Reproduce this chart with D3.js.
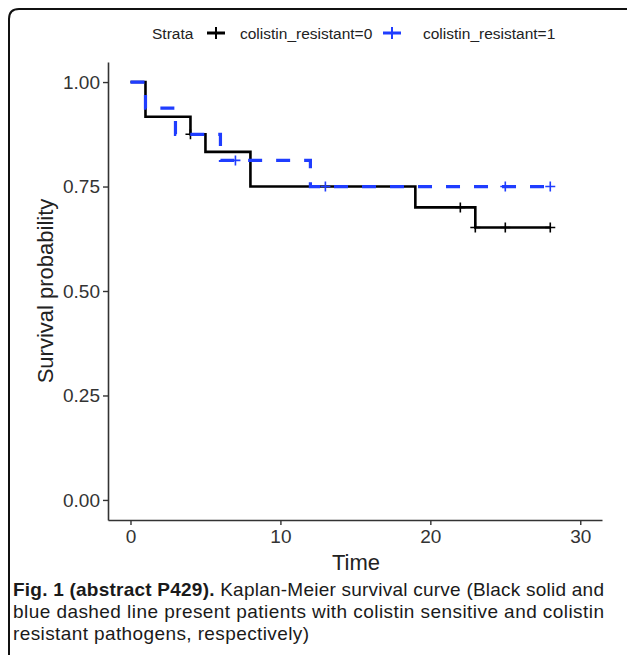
<!DOCTYPE html>
<html><head><meta charset="utf-8">
<script src="https://cdn.jsdelivr.net/npm/d3@7"></script>
<style>html,body{margin:0;padding:0;background:#fff;}svg{display:block;}</style>
</head><body>
<svg id="c" width="627" height="655"></svg>
<script>
// ---- data ----
const seriesNames = ["colistin_resistant=0", "colistin_resistant=1"];
const times0 = [0, 1, 4, 5, 8, 19, 23, 28];
const surv0  = [1.00, 0.917, 0.875, 0.833, 0.75, 0.70, 0.652, 0.652];
const censor0 = [4, 22, 23, 25, 28];
const times1 = [0, 1, 3, 6, 12, 28];
const surv1  = [1.00, 0.9375, 0.875, 0.8125, 0.75, 0.75];
const censor1 = [7, 13, 25, 28];
const xTicks = [0, 10, 20, 30];
const yTicks = [0, 0.25, 0.5, 0.75, 1.0];
const colors = ["#000000", "#1f3dff"];
const captionBold = "Fig. 1 (abstract P429).";
const captionLines = [" Kaplan-Meier survival curve (Black solid and",
  "blue dashed line present patients with colistin sensitive and colistin",
  "resistant pathogens, respectively)"];

const svg = d3.select("#c");
const font = "'Liberation Sans', Arial, sans-serif";

// frame
svg.append("path").attr("d", "M9,655 L9,19 Q9,9 19,9 L627,9")
  .attr("fill", "none").attr("stroke", "#111").attr("stroke-width", 2);

const x = d3.scaleLinear().domain([-1.5, 31.45]).range([108, 602]);
const y = d3.scaleLinear().domain([-0.048, 1.048]).range([520, 62]);

const xAxis = svg.append("g").attr("transform", "translate(0,520)")
  .call(d3.axisBottom(x).tickValues(xTicks).tickFormat(d3.format("d")).tickSize(5).tickSizeOuter(0).tickPadding(5));
const yAxis = svg.append("g").attr("transform", "translate(108,0)")
  .call(d3.axisLeft(y).tickValues(yTicks).tickFormat(d3.format(".2f")).tickSize(5).tickSizeOuter(0).tickPadding(3));
[xAxis, yAxis].forEach(g => {
  g.selectAll("path.domain").attr("stroke", "#333").attr("stroke-width", 1.6);
  g.selectAll(".tick line").attr("stroke", "#333").attr("stroke-width", 1.4);
  g.selectAll(".tick text").attr("fill", "#333").style("font-family", font).style("font-size", "19px");
});

svg.append("text").attr("x", 356).attr("y", 570).attr("text-anchor", "middle")
  .style("font-family", font).style("font-size", "22px").attr("fill", "#222").text("Time");
svg.append("text").attr("transform", "translate(53,291) rotate(-90)").attr("text-anchor", "middle")
  .style("font-family", font).style("font-size", "22px").attr("fill", "#222").text("Survival probability");

const line = d3.line().x(d => x(d[0])).y(d => y(d[1])).curve(d3.curveStepAfter);
function stepVal(ts, ss, t) { let v = ss[0]; for (let i = 0; i < ts.length; i++) if (ts[i] <= t) v = ss[i]; return v; }
const plus = "M-5,0H5M0,-5V5";

const series = [
  {t: times0, s: surv0, c: censor0, col: colors[0], dash: null, w: 2.6},
  {t: times1, s: surv1, c: censor1, col: colors[1], dash: "14,14", w: 3.2}
];
series.forEach(S => {
  const pts = S.t.map((t, i) => [t, S.s[i]]);
  svg.append("path").datum(pts).attr("d", line).attr("fill", "none")
    .attr("stroke", S.col).attr("stroke-width", S.w).attr("stroke-dasharray", S.dash);
  svg.selectAll(null).data(S.c).enter().append("path")
    .attr("transform", d => `translate(${x(d)},${y(stepVal(S.t, S.s, d))})`)
    .attr("d", plus).attr("stroke", S.col).attr("stroke-width", 1.6);
});

// legend
const lg = svg.append("g").style("font-family", font).style("font-size", "15.5px");
lg.append("text").attr("x", 152).attr("y", 39).attr("fill", "#222").text("Strata");
const legX = [207, 383], legTX = [240, 423];
series.forEach((S, i) => {
  lg.append("line").attr("x1", legX[i]).attr("x2", legX[i] + 18).attr("y1", 33).attr("y2", 33)
    .attr("stroke", S.col).attr("stroke-width", 3);
  lg.append("path").attr("transform", `translate(${legX[i] + 9},33)`).attr("d", "M0,-6V6")
    .attr("stroke", S.col).attr("stroke-width", 2);
  lg.append("text").attr("x", legTX[i]).attr("y", 39).attr("fill", "#222").text(seriesNames[i]);
});

// caption (justified lines, like the reference)
const cap = svg.append("g").style("font-family", font).style("font-size", "19px").attr("fill", "#1a1a1a");
const c1 = cap.append("text").attr("x", 13).attr("y", 596).attr("textLength", 591).attr("lengthAdjust", "spacing");
c1.append("tspan").style("font-weight", "bold").text(captionBold);
c1.append("tspan").text(captionLines[0]);
cap.append("text").attr("x", 13).attr("y", 618).attr("textLength", 591).attr("lengthAdjust", "spacing").text(captionLines[1]);
cap.append("text").attr("x", 13).attr("y", 640).attr("textLength", 296).attr("lengthAdjust", "spacing").text(captionLines[2]);
</script>
</body></html>
